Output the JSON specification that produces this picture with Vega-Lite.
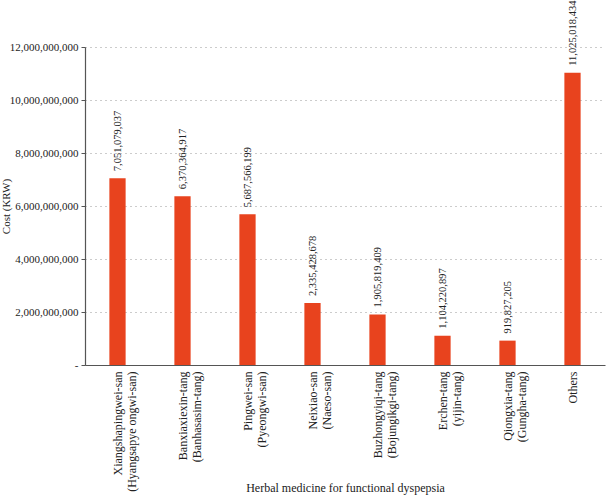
{
  "$schema": "https://vega.github.io/schema/vega-lite/v6.json",
  "width": 520,
  "height": 318,
  "autosize": {"type": "none"},
  "padding": {"left": 85, "top": 47, "right": 4, "bottom": 133},
  "data": {
    "values": [
      {"medicine": "Xiangshapingwei-san|(Hyangsapye ongwi-san)", "cost": 7051079037},
      {"medicine": "Banxiaxiexin-tang|(Banhasasim-tang)", "cost": 6370364917},
      {"medicine": "Pingwei-san|(Pyeongwi-san)", "cost": 5687566199},
      {"medicine": "Neixiao-san|(Naeso-san)", "cost": 2335428678},
      {"medicine": "Buzhongyiqi-tang|(Bojungikgi-tang)", "cost": 1905819409},
      {"medicine": "Erchen-tang|(yijin-tang)", "cost": 1104220897},
      {"medicine": "Qiongxia-tang|(Gungha-tang)", "cost": 919827205},
      {"medicine": "Others", "cost": 11025018434}
    ]
  },
  "encoding": {
    "x": {
      "field": "medicine",
      "type": "nominal",
      "sort": null,
      "scale": {"paddingInner": 0.75, "paddingOuter": 0.375},
      "title": "Herbal medicine for functional dyspepsia",
      "axis": {
        "labelAngle": -90,
        "labelExpr": "split(datum.label, '|')",
        "labelFontSize": 12,
        "labelLineHeight": 14,
        "labelPadding": 6,
        "ticks": false,
        "domainColor": "#555555",
        "domainWidth": 1.2,
        "titleFontSize": 12,
        "titleFontWeight": "normal",
        "titleY": 117
      }
    },
    "y": {
      "field": "cost",
      "type": "quantitative",
      "scale": {"domain": [0, 12000000000]},
      "title": "Cost (KRW)",
      "axis": {
        "values": [0, 2000000000, 4000000000, 6000000000, 8000000000, 10000000000, 12000000000],
        "labelExpr": "datum.value == 0 ? '-' : format(datum.value, ',')",
        "labelFontSize": 11,
        "labelPadding": 3,
        "tickSize": 4,
        "tickColor": "#555555",
        "domainColor": "#555555",
        "domainWidth": 1.2,
        "grid": true,
        "gridDash": [1, 4],
        "gridColor": "#999999",
        "titleFontSize": 11,
        "titleFontWeight": "normal",
        "titleX": -74
      }
    }
  },
  "layer": [
    {"mark": {"type": "bar", "color": "#e8431e"}},
    {
      "mark": {
        "type": "text",
        "angle": -90,
        "align": "left",
        "baseline": "middle",
        "dx": 7,
        "fontSize": 10.5,
        "color": "#222222"
      },
      "encoding": {
        "text": {"field": "cost", "type": "quantitative", "format": ","}
      }
    }
  ],
  "config": {
    "font": "Liberation Serif",
    "view": {"stroke": null},
    "axis": {"labelColor": "#222222", "titleColor": "#222222", "labelFont": "Liberation Serif", "titleFont": "Liberation Serif"},
    "text": {"font": "Liberation Serif"}
  }
}
